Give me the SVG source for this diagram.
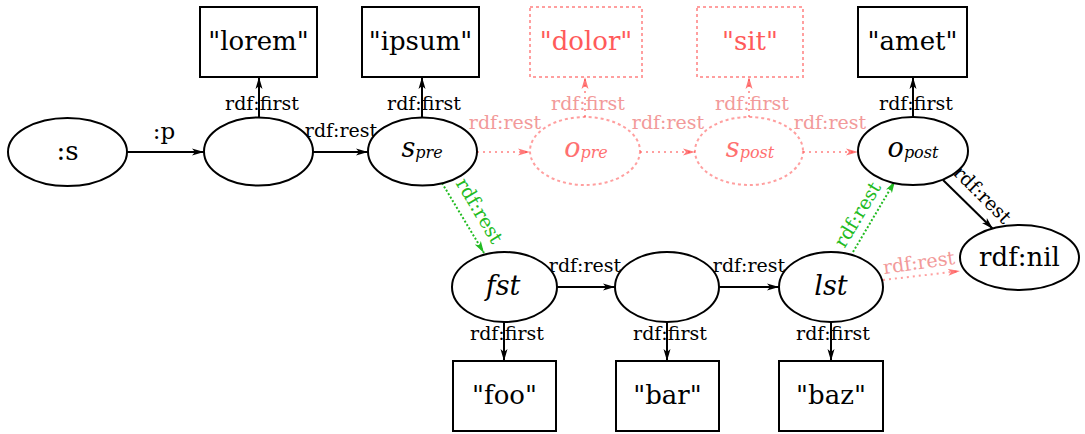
<svg xmlns="http://www.w3.org/2000/svg" width="1085" height="434" viewBox="0 0 1085 434">
<defs>
<marker id="ab" markerUnits="userSpaceOnUse" markerWidth="12" markerHeight="8" refX="12" refY="4" orient="auto" viewBox="0 0 12 8"><path d="M0,0.5 L12,4 L0,7.5 L3,4 z" fill="#000"/></marker>
<marker id="ar" markerUnits="userSpaceOnUse" markerWidth="12" markerHeight="8" refX="12" refY="4" orient="auto" viewBox="0 0 12 8"><path d="M0,0.5 L12,4 L0,7.5 L3,4 z" fill="#ff4040" fill-opacity="0.7"/></marker>
<marker id="ag" markerUnits="userSpaceOnUse" markerWidth="12" markerHeight="8" refX="12" refY="4" orient="auto" viewBox="0 0 12 8"><path d="M0,0.5 L12,4 L0,7.5 L3,4 z" fill="#22bb22"/></marker>
<style>
.n{fill:#fff;stroke:#000;stroke-width:2}
.nr{fill:#fff;stroke:#ff5050;stroke-opacity:0.55;stroke-width:2;stroke-dasharray:3,3}
.t{font-family:"DejaVu Serif",serif;font-size:26px;fill:#000;text-anchor:middle}
.tr{font-family:"DejaVu Serif",serif;font-size:26px;fill:#ff5a5a;text-anchor:middle}
.ti{font-family:"DejaVu Serif",serif;font-style:italic;font-size:27px;fill:#000;text-anchor:middle}
.tri{font-family:"DejaVu Serif",serif;font-style:italic;font-size:27px;fill:#ff7070;text-anchor:middle}
.sub{font-size:16px}
.l{font-family:"DejaVu Serif",serif;font-size:19px;fill:#000;text-anchor:middle}
.lr{font-family:"DejaVu Serif",serif;font-size:19px;fill:#f29a9a;text-anchor:middle}
.lg{font-family:"DejaVu Serif",serif;font-size:19px;fill:#22bb22;text-anchor:middle}
.e{stroke:#000;stroke-width:2;fill:none;marker-end:url(#ab)}
.er{stroke:#ff5050;stroke-opacity:0.55;stroke-width:2;stroke-dasharray:2,4;fill:none;marker-end:url(#ar)}
.eg{stroke:#22bb22;stroke-width:2;stroke-dasharray:2,2;fill:none;marker-end:url(#ag)}
</style>
</defs>
<rect width="1085" height="434" fill="#fff"/>
<g id="connectors">
<line class="e" x1="127" y1="152" x2="204" y2="152"/>
<text class="l" x="164" y="139" style="font-size:23px">:p</text>
<line class="e" x1="313" y1="152" x2="368" y2="152"/>
<text class="l" x="341" y="137">rdf:rest</text>
<line class="e" x1="259" y1="118" x2="259" y2="77"/>
<text class="l" x="262" y="110">rdf:first</text>
<line class="e" x1="422" y1="118" x2="422" y2="77"/>
<text class="l" x="424" y="110">rdf:first</text>
<line class="e" x1="913" y1="117" x2="913" y2="77"/>
<text class="l" x="916" y="110">rdf:first</text>
<line class="er" x1="477" y1="152" x2="530" y2="152"/>
<text class="lr" x="505" y="129">rdf:rest</text>
<line class="er" x1="640" y1="152" x2="695" y2="152"/>
<text class="lr" x="668" y="129">rdf:rest</text>
<line class="er" x1="803" y1="152" x2="858" y2="152"/>
<text class="lr" x="830" y="129">rdf:rest</text>
<line class="er" x1="585" y1="117" x2="585" y2="77"/>
<text class="lr" x="588" y="110">rdf:first</text>
<line class="er" x1="749" y1="117" x2="749" y2="77"/>
<text class="lr" x="752" y="110">rdf:first</text>
<line class="e" x1="943" y1="180" x2="993" y2="229"/>
<text class="l" transform="translate(982,195) rotate(45)" x="0" y="6">rdf:rest</text>
<line class="eg" x1="442" y1="183" x2="484" y2="253"/>
<text class="lg" transform="translate(479,211) rotate(59)" x="0" y="6">rdf:rest</text>
<line class="eg" x1="853" y1="252" x2="895" y2="181"/>
<text class="lg" transform="translate(858,215) rotate(-59)" x="0" y="6">rdf:rest</text>
<line class="er" x1="883" y1="280" x2="960" y2="271"/>
<text class="lr" transform="translate(919,263) rotate(-8)" x="0" y="6">rdf:rest</text>
<line class="e" x1="557" y1="287" x2="615" y2="287"/>
<text class="l" x="585" y="272">rdf:rest</text>
<line class="e" x1="719" y1="287" x2="779" y2="287"/>
<text class="l" x="749" y="272">rdf:rest</text>
<line class="e" x1="504" y1="322" x2="504" y2="361"/>
<text class="l" x="507" y="340">rdf:first</text>
<line class="e" x1="667" y1="322" x2="667" y2="361"/>
<text class="l" x="670" y="340">rdf:first</text>
<line class="e" x1="831" y1="322" x2="831" y2="361"/>
<text class="l" x="833" y="340">rdf:first</text>
</g>
<g id="s"><ellipse class="n" cx="67.5" cy="152" rx="59.5" ry="34"/><text class="t" x="67.5" y="160">:s</text></g>
<g id="b1"><ellipse class="n" cx="258.5" cy="151.5" rx="54.5" ry="34"/></g>
<g id="spre"><ellipse class="n" cx="422.5" cy="151.5" rx="54.5" ry="34"/><text class="ti" x="422" y="157"><tspan>s</tspan><tspan class="sub" dy="1">pre</tspan></text></g>
<g id="opre"><ellipse class="nr" cx="585" cy="151" rx="55" ry="34"/><text class="tri" x="586" y="157"><tspan>o</tspan><tspan class="sub" dy="1">pre</tspan></text></g>
<g id="spost"><ellipse class="nr" cx="749" cy="151" rx="54" ry="34"/><text class="tri" x="750" y="157"><tspan>s</tspan><tspan class="sub" dy="1">post</tspan></text></g>
<g id="opost"><ellipse class="n" cx="913" cy="151" rx="55" ry="34"/><text class="ti" x="913" y="157"><tspan>o</tspan><tspan class="sub" dy="1">post</tspan></text></g>
<g id="lorem"><rect class="n" x="200" y="7" width="117" height="70"/><text class="t" x="258.5" y="50">"lorem"</text></g>
<g id="ipsum"><rect class="n" x="362" y="7" width="117" height="70"/><text class="t" x="420.5" y="50">"ipsum"</text></g>
<g id="dolor"><rect class="nr" x="530" y="7" width="112" height="70"/><text class="tr" x="586" y="50">"dolor"</text></g>
<g id="sit"><rect class="nr" x="697" y="7" width="106" height="70"/><text class="tr" x="750" y="50">"sit"</text></g>
<g id="amet"><rect class="n" x="858" y="7" width="109" height="70"/><text class="t" x="912.5" y="50">"amet"</text></g>
<g id="fst"><ellipse class="n" cx="504.5" cy="287" rx="52.5" ry="35"/><text class="ti" x="503" y="295">fst</text></g>
<g id="b2"><ellipse class="n" cx="667" cy="287" rx="52" ry="35"/></g>
<g id="lst"><ellipse class="n" cx="831" cy="287" rx="52" ry="35"/><text class="ti" x="831" y="295">lst</text></g>
<g id="nil"><ellipse class="n" cx="1019.5" cy="257.5" rx="59.5" ry="32.5"/><text class="t" x="1019.5" y="266">rdf:nil</text></g>
<g id="foo"><rect class="n" x="453" y="361" width="103" height="70"/><text class="t" x="504.5" y="404">"foo"</text></g>
<g id="bar"><rect class="n" x="616" y="361" width="103" height="70"/><text class="t" x="667.5" y="404">"bar"</text></g>
<g id="baz"><rect class="n" x="779" y="361" width="104" height="70"/><text class="t" x="831" y="404">"baz"</text></g>
</svg>
